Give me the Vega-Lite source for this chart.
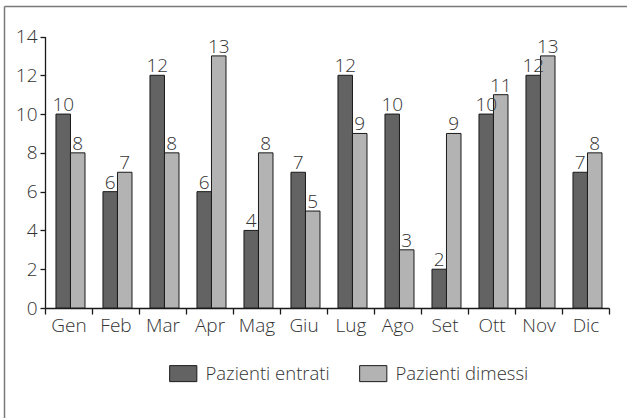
{
  "$schema": "https://vega.github.io/schema/vega-lite/v6.json",
  "width": 640,
  "height": 424,
  "autosize": {"type": "none"},
  "padding": {"left": 4, "top": 6, "right": -17, "bottom": -12},
  "background": "white",
  "view": {"stroke": null},
  "config": {
    "view": {"stroke": null},
    "style": {"cell": {"stroke": null}},
    "font": "Open Sans",
    "axis": {"labelFont": "Open Sans", "labelFontSize": 19, "labelFontWeight": 300, "labelColor": "#333333", "domainColor": "#1a1a1a", "tickColor": "#1a1a1a", "domainWidth": 1.3, "tickWidth": 1.3, "grid": false, "title": null},
    "legend": {"labelFont": "Open Sans", "labelFontSize": 18.5, "labelFontWeight": 300, "labelColor": "#333333"}
  },
  "data": {
    "values": [
      {"mese": "Gen", "serie": "Pazienti entrati", "valore": 10},
      {"mese": "Gen", "serie": "Pazienti dimessi", "valore": 8},
      {"mese": "Feb", "serie": "Pazienti entrati", "valore": 6},
      {"mese": "Feb", "serie": "Pazienti dimessi", "valore": 7},
      {"mese": "Mar", "serie": "Pazienti entrati", "valore": 12},
      {"mese": "Mar", "serie": "Pazienti dimessi", "valore": 8},
      {"mese": "Apr", "serie": "Pazienti entrati", "valore": 6},
      {"mese": "Apr", "serie": "Pazienti dimessi", "valore": 13},
      {"mese": "Mag", "serie": "Pazienti entrati", "valore": 4},
      {"mese": "Mag", "serie": "Pazienti dimessi", "valore": 8},
      {"mese": "Giu", "serie": "Pazienti entrati", "valore": 7},
      {"mese": "Giu", "serie": "Pazienti dimessi", "valore": 5},
      {"mese": "Lug", "serie": "Pazienti entrati", "valore": 12},
      {"mese": "Lug", "serie": "Pazienti dimessi", "valore": 9},
      {"mese": "Ago", "serie": "Pazienti entrati", "valore": 10},
      {"mese": "Ago", "serie": "Pazienti dimessi", "valore": 3},
      {"mese": "Set", "serie": "Pazienti entrati", "valore": 2},
      {"mese": "Set", "serie": "Pazienti dimessi", "valore": 9},
      {"mese": "Ott", "serie": "Pazienti entrati", "valore": 10},
      {"mese": "Ott", "serie": "Pazienti dimessi", "valore": 11},
      {"mese": "Nov", "serie": "Pazienti entrati", "valore": 12},
      {"mese": "Nov", "serie": "Pazienti dimessi", "valore": 13},
      {"mese": "Dic", "serie": "Pazienti entrati", "valore": 7},
      {"mese": "Dic", "serie": "Pazienti dimessi", "valore": 8}
    ]
  },
  "layer": [
    {
      "encoding": {
        "x": {
          "field": "mese", "type": "nominal",
          "sort": ["Gen", "Feb", "Mar", "Apr", "Mag", "Giu", "Lug", "Ago", "Set", "Ott", "Nov", "Dic"],
          "scale": {"range": [41, 605], "paddingInner": 0, "paddingOuter": 0},
          "axis": {"orient": "bottom", "offset": -122, "labelAngle": 0, "tickBand": "extent", "tickSize": 6, "labelPadding": 2}
        },
        "xOffset": {
          "field": "serie", "type": "nominal",
          "sort": ["Pazienti entrati", "Pazienti dimessi"],
          "scale": {"paddingInner": 0, "paddingOuter": 0.62, "align": 0.61}
        },
        "y": {
          "field": "valore", "type": "quantitative",
          "scale": {"domain": [0, 14], "range": [302, 30.5], "nice": false},
          "axis": {"orient": "left", "offset": -41, "values": [0, 2, 4, 6, 8, 10, 12, 14], "tickSize": 5, "labelPadding": 3}
        }
      },
      "layer": [
        {
          "mark": {"type": "bar", "stroke": "#1a1a1a", "strokeWidth": 1},
          "encoding": {
            "color": {
              "field": "serie", "type": "nominal",
              "sort": ["Pazienti entrati", "Pazienti dimessi"],
              "scale": {"domain": ["Pazienti entrati", "Pazienti dimessi"], "range": ["#636363", "#b3b3b3"]},
              "legend": {
                "title": null, "orient": "none", "direction": "horizontal",
                "legendX": 170, "legendY": 358,
                "symbolType": "M-1.7,-1H1.7V1H-1.7Z", "symbolSize": 256,
                "symbolStrokeColor": "#1a1a1a", "symbolStrokeWidth": 1,
                "labelOffset": 13, "columnPadding": 27
              }
            }
          }
        },
        {
          "mark": {"type": "text", "baseline": "alphabetic", "dy": -3, "fontSize": 19, "fontWeight": 300, "color": "#333333", "font": "Open Sans"},
          "encoding": {"text": {"field": "valore", "type": "quantitative"}}
        }
      ]
    },
    {
      "mark": {"type": "point", "opacity": 0},
      "encoding": {
        "x": {
          "datum": 0, "type": "quantitative",
          "scale": {"domain": [0, 1], "range": [0, 700]},
          "axis": {"orient": "top", "offset": 0, "domainColor": "#7a7a7a", "domainWidth": 1.5, "ticks": false, "labels": false, "title": null, "grid": false}
        },
        "y": {
          "datum": 0, "type": "quantitative",
          "scale": {"domain": [0, 1], "range": [500, 0]},
          "axis": {"orient": "left", "offset": 0, "domainColor": "#7a7a7a", "domainWidth": 1.5, "ticks": false, "labels": false, "title": null, "grid": false}
        }
      }
    }
  ],
  "resolve": {"scale": {"x": "independent", "y": "independent"}, "axis": {"x": "independent", "y": "independent"}}
}
